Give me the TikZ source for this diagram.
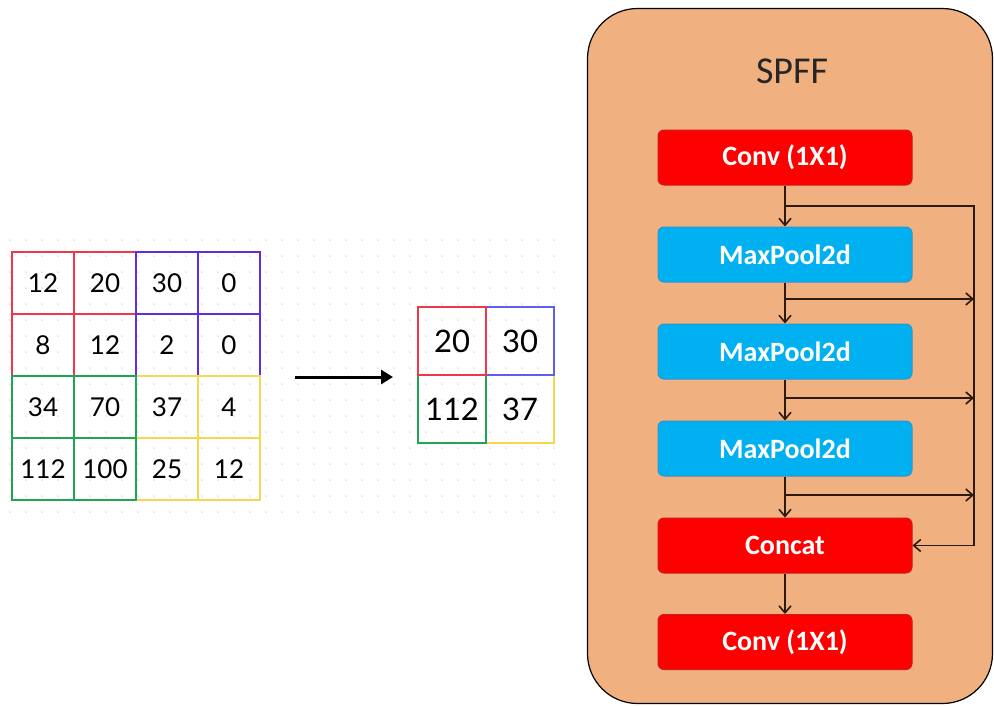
\documentclass[tikz,border=0pt]{standalone}
\usepackage{fontspec}
\setmainfont{Carlito}
\newfontfamily\numfont{Lato}
\usetikzlibrary{arrows.meta,positioning}

\definecolor{panel}{RGB}{241,176,128}
\definecolor{convred}{RGB}{255,0,0}
\definecolor{convedge}{RGB}{200,30,30}
\definecolor{poolblue}{RGB}{0,176,240}
\definecolor{pooledge}{RGB}{40,150,210}
\definecolor{linebrown}{RGB}{45,25,15}
\definecolor{qred}{RGB}{238,55,75}
\definecolor{qpurple}{RGB}{95,45,225}
\definecolor{qgreen}{RGB}{30,165,85}
\definecolor{qyellow}{RGB}{245,215,80}
\definecolor{qblue}{RGB}{95,95,235}

\tikzset{
  layer/.style={draw, line width=1pt, rounded corners=6pt, minimum width=254pt,
    minimum height=55pt, inner sep=0pt, font=\fontsize{28}{32}\selectfont\bfseries,
    text=white},
  convbox/.style={layer, fill=convred, draw=convedge},
  poolbox/.style={layer, fill=poolblue, draw=pooledge},
  flow/.style={draw=linebrown, line width=1.6pt,
    -{Straight Barb[length=7pt,width=12pt,line width=1.6pt]}},
  cell/.style={minimum size=62pt, inner sep=0pt, font=\numfont\fontsize{26}{30}\selectfont},
  bigcell/.style={minimum size=68pt, inner sep=0pt, font=\numfont\fontsize{31}{35}\selectfont},
}

\begin{document}
\begin{tikzpicture}[x=1pt,y=-1pt]
\useasboundingbox (0,0) rectangle (994,705);

% faint dotted canvas behind the matrices
\foreach \i in {0,...,34}{
  \foreach \j in {0,...,17}{
    \fill[gray!25] (10+\i*16, 240+\j*16) circle (1);
  }
}

% 4x4 input feature map
\foreach \r/\row in {0/{12,20,30,0},1/{8,12,2,0},2/{34,70,37,4},3/{112,100,25,12}}{
  \foreach \v [count=\c from 0] in \row {
    \node[cell] (in-\r-\c) at (43+\c*62, 283+\r*62) {\v};
  }
}
% coloured pooling windows
\draw[qred, line width=2pt] (12,252) rectangle (136,376) (74,252) -- (74,376) (12,314) -- (136,314);
\draw[qpurple, line width=2pt] (136,252) rectangle (260,376) (198,252) -- (198,376) (136,314) -- (260,314);
\draw[qyellow, line width=2pt] (136,376) rectangle (260,500) (198,376) -- (198,500) (136,438) -- (260,438);
\draw[qgreen, line width=2pt] (12,376) rectangle (136,500) (74,376) -- (74,500) (12,438) -- (136,438);

% 2x2 pooled output
\node[bigcell] (out-0-0) at (452,341) {20};
\node[bigcell] (out-0-1) at (520,341) {30};
\node[bigcell] (out-1-0) at (452,409) {112};
\node[bigcell] (out-1-1) at (520,409) {37};
\draw[qyellow, line width=2pt] (486,375) rectangle (554,443);
\draw[qgreen, line width=2pt] (418,375) rectangle (486,443);
\draw[qblue, line width=2pt] (486,307) rectangle (554,375);
\draw[qred, line width=2pt] (418,307) rectangle (486,375);

% pooling arrow
\coordinate (pa) at (295,377);
\coordinate (pb) at (393,377);
\draw[line width=3pt, -{Triangle[length=12pt,width=14pt]}] (pa) -- (pb);

% SPFF panel
\node[draw=black, line width=1.2pt, fill=panel, rounded corners=50pt,
  minimum width=405pt, minimum height=695pt, inner sep=0pt] (panel) at (790,356) {};
\node[font=\fontsize{38}{42}\selectfont, text=black!85] (title) at (792,71) {SPFF};

\node[convbox] (conv1) at (785,157.5) {Conv (1X1)};
\node[poolbox] (mp1) at (785,254.5) {MaxPool2d};
\node[poolbox] (mp2) at (785,351.5) {MaxPool2d};
\node[poolbox] (mp3) at (785,448.5) {MaxPool2d};
\node[convbox] (cat) at (785,545.5) {Concat};
\node[convbox] (conv2) at (785,642) {Conv (1X1)};

% main path
\draw[flow] (conv1) -- (mp1);
\draw[flow] (mp1) -- (mp2);
\draw[flow] (mp2) -- (mp3);
\draw[flow] (mp3) -- (cat);
\draw[flow] (cat) -- (conv2);

% skip connections gathered on the right rail
\coordinate (s0) at (785,206);
\coordinate (r0) at (974,206);
\coordinate (s1) at (785,299);
\coordinate (r1) at (974,299);
\coordinate (s2) at (785,398);
\coordinate (r2) at (974,398);
\coordinate (s3) at (785,495);
\coordinate (r3) at (974,495);
\draw[flow] (s0) -- (r0) |- (cat.east);
\draw[flow] (s1) -- (r1);
\draw[flow] (s2) -- (r2);
\draw[flow] (s3) -- (r3);
\end{tikzpicture}
\end{document}
